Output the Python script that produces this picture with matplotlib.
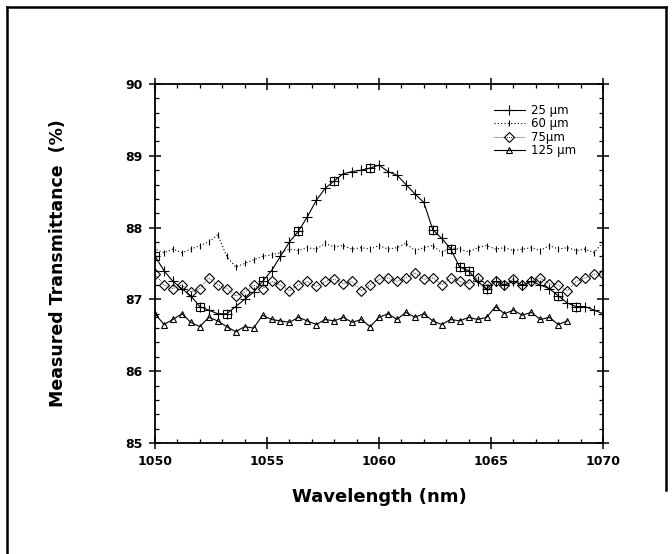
import matplotlib.pyplot as plt
from matplotlib.lines import Line2D
import numpy as np

wavelength = np.linspace(1050, 1070, 51)

t25 = [87.6, 87.4, 87.25, 87.15, 87.05, 86.9, 86.85, 86.8, 86.8, 86.9,
       87.0, 87.1, 87.25, 87.4, 87.6, 87.8, 87.95, 88.15, 88.38, 88.55,
       88.65, 88.75, 88.78, 88.8, 88.83, 88.87, 88.78, 88.73, 88.6, 88.47,
       88.35, 87.97, 87.85, 87.7, 87.45, 87.4, 87.25, 87.15, 87.25, 87.2,
       87.25, 87.2, 87.25, 87.2, 87.15, 87.05, 86.95, 86.9, 86.9, 86.85,
       86.8]

# the 60 um trace starts with a jump down from the top of the axis
wl60 = np.concatenate(([1050.0], wavelength))
t60 = [90.0,
       87.7, 87.65, 87.7, 87.65, 87.7, 87.75, 87.8, 87.9, 87.6, 87.45,
       87.5, 87.55, 87.6, 87.62, 87.65, 87.7, 87.68, 87.72, 87.7, 87.78,
       87.73, 87.75, 87.7, 87.72, 87.7, 87.75, 87.7, 87.72, 87.78, 87.68,
       87.72, 87.75, 87.65, 87.72, 87.7, 87.66, 87.72, 87.75, 87.7, 87.72,
       87.68, 87.7, 87.72, 87.68, 87.75, 87.7, 87.72, 87.68, 87.7, 87.65,
       87.8]

t75 = [87.35, 87.2, 87.15, 87.2, 87.1, 87.15, 87.3, 87.2, 87.15, 87.05,
       87.1, 87.2, 87.15, 87.25, 87.2, 87.12, 87.2, 87.25, 87.18, 87.25,
       87.28, 87.22, 87.25, 87.12, 87.2, 87.28, 87.3, 87.25, 87.3, 87.37,
       87.28, 87.3, 87.2, 87.3, 87.25, 87.22, 87.3, 87.2, 87.25, 87.2,
       87.28, 87.2, 87.25, 87.3, 87.22, 87.2, 87.12, 87.25, 87.3, 87.35,
       87.35]

t125 = [86.8, 86.65, 86.72, 86.8, 86.68, 86.62, 86.75, 86.7, 86.62, 86.55,
        86.62, 86.6, 86.78, 86.72, 86.7, 86.68, 86.75, 86.7, 86.65, 86.72,
        86.7, 86.75, 86.68, 86.72, 86.62, 86.75, 86.8, 86.72, 86.82, 86.75,
        86.8, 86.7, 86.65, 86.72, 86.7, 86.75, 86.72, 86.75, 86.9, 86.8,
        86.85, 86.78, 86.82, 86.72, 86.75, 86.65, 86.7]

labels = ['25 µm', '60 µm', '75µm', '125 µm']
x_ticks = [1050, 1055, 1060, 1065, 1070]
y_ticks = [85, 86, 87, 88, 89, 90]

fig = plt.figure(figsize=(6.72, 5.54), dpi=100)
ax = fig.add_axes([0.2307, 0.2004, 0.6667, 0.648])

ax.plot(wavelength, t25, color='black', lw=0.8, marker='+', ms=7, mew=0.8,
        label=labels[0])
ax.plot(wavelength, t25, ls='none', marker='s', ms=6, mfc='none', mec='black',
        mew=0.8, markevery=[0, 5, 8, 12, 16, 20, 24, 31, 33, 34, 35, 37, 45, 47])
ax.plot(wl60, t60, color='black', lw=0.8, ls=(0, (1, 2)), marker='|', ms=4,
        mew=0.8, label=labels[1])
ax.plot(wavelength, t75, color='black', lw=0.6, ls=(0, (1, 1.5)), marker='D',
        ms=5, mfc='none', mec='black', mew=0.8, label=labels[2])
ax.plot(wavelength[:len(t125)], t125, color='black', lw=0.8, marker='^', ms=4,
        mfc='none', mec='black', mew=0.8, label=labels[3])

ax.set_xlim(1050, 1070)
ax.set_ylim(85, 90)
ax.set_xticks(x_ticks)
ax.set_xticks(np.arange(1050, 1071, 1), minor=True)
ax.set_yticks(y_ticks)
ax.set_yticks(np.arange(85, 90.01, 0.2), minor=True)
for s in ax.spines.values():
    s.set_linewidth(1.3)
ax.tick_params(which='major', direction='inout', length=8, width=1.1,
               top=True, right=True, labelsize=9, pad=5)
ax.tick_params(which='minor', direction='in', length=3, width=0.9,
               top=True, right=True)
for lab in ax.get_xticklabels() + ax.get_yticklabels():
    lab.set_fontweight('bold')

ax.set_xlabel('Wavelength (nm)', fontsize=13, fontweight='bold', labelpad=14)
ax.set_ylabel('Measured Transmittance  (%)', fontsize=12.5, fontweight='bold',
              labelpad=42)

ax.legend(loc='upper right', bbox_to_anchor=(0.955, 0.965), frameon=False,
          fontsize=8.5, handlelength=2.6, labelspacing=0.05, handletextpad=0.5,
          borderaxespad=0.2)

# outer frame of the original figure
fig.add_artist(Line2D([7 / 672, 7 / 672], [0, 1 - 7 / 554], color='black', lw=1.8))
fig.add_artist(Line2D([7 / 672, 666 / 672], [1 - 7 / 554, 1 - 7 / 554], color='black', lw=1.8))
fig.add_artist(Line2D([666 / 672, 666 / 672], [1 - 7 / 554, 1 - 490 / 554], color='black', lw=1.8))

fig.savefig('out.png', dpi=100)
